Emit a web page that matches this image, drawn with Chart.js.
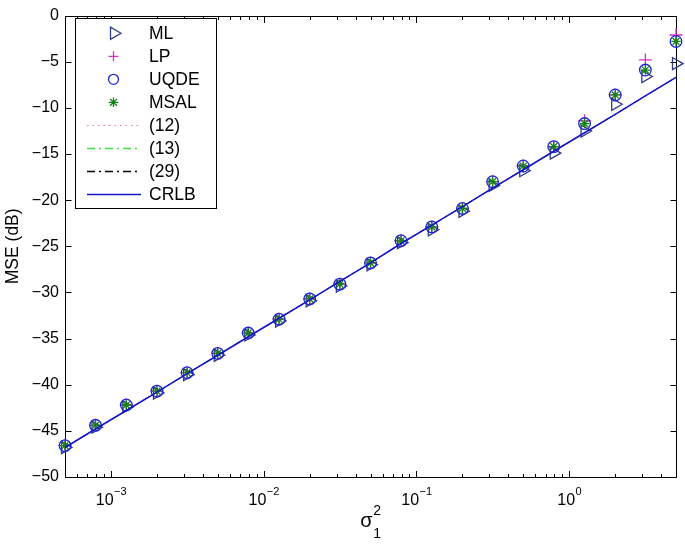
<!DOCTYPE html>
<html>
<head>
<meta charset="utf-8">
<script src="https://cdn.jsdelivr.net/npm/chart.js@4.4.1/dist/chart.umd.min.js"></script>
<style>
  html, body { margin: 0; padding: 0; background: #fff; }
  canvas { display: block; }
</style>
</head>
<body>
<canvas id="c" width="685" height="548"></canvas>
<script>
// ---- data ----
const sigma2 = [5e-4, 7.92e-4, 1.26e-3, 2e-3, 3.15e-3, 5e-3, 7.92e-3, 1.26e-2, 2e-2, 3.15e-2, 5e-2, 7.92e-2, 0.126, 0.2, 0.315, 0.5, 0.792, 1.26, 2, 3.15, 5];
const mseML   = [-46.8, -44.6, -42.4, -40.9, -38.9, -36.8, -34.6, -33.1, -30.9, -29.3, -27.0, -24.6, -23.2, -21.2, -18.4, -16.8, -14.9, -12.5, -9.6, -6.6, -5.2];
const mseLP   = [-46.6, -44.4, -42.2, -40.7, -38.7, -36.6, -34.4, -32.9, -30.7, -29.1, -26.8, -24.4, -22.9, -20.9, -18.0, -16.3, -14.2, -11.4, -8.6, -4.8, -2.1];
const mseUQDE = [-46.6, -44.4, -42.2, -40.7, -38.7, -36.6, -34.4, -32.9, -30.7, -29.1, -26.8, -24.4, -22.9, -20.9, -18.0, -16.3, -14.2, -11.7, -8.6, -5.9, -2.8];
const mseMSAL = [-46.6, -44.4, -42.2, -40.7, -38.7, -36.6, -34.4, -32.9, -30.7, -29.1, -26.8, -24.4, -22.9, -20.9, -18.0, -16.3, -14.2, -11.7, -8.6, -5.9, -2.8];
const mseEq12 = [-46.8, -44.8, -42.8, -40.8, -38.8, -36.8, -34.8, -32.8, -30.8, -28.8, -26.8, -24.7, -22.7, -20.7, -18.7, -16.7, -14.7, -12.7, -10.7, -8.7, -6.7];
const mseEq13 = [-46.8, -44.8, -42.8, -40.8, -38.8, -36.8, -34.8, -32.8, -30.8, -28.8, -26.8, -24.7, -22.7, -20.7, -18.7, -16.7, -14.7, -12.7, -10.7, -8.7, -6.7];
const mseEq29 = [-46.8, -44.8, -42.8, -40.8, -38.8, -36.8, -34.8, -32.8, -30.8, -28.8, -26.8, -24.7, -22.7, -20.7, -18.7, -16.7, -14.7, -12.7, -10.7, -8.7, -6.7];
const crlb    = [-46.8, -44.8, -42.8, -40.8, -38.8, -36.8, -34.8, -32.8, -30.8, -28.8, -26.8, -24.7, -22.7, -20.7, -18.7, -16.7, -14.7, -12.7, -10.7, -8.7, -6.7];

const xTickValues = [1e-3, 1e-2, 1e-1, 1];
const xTickExps = ['\u22123', '\u22122', '\u22121', '0'];
const yTickValues = [-50, -45, -40, -35, -30, -25, -20, -15, -10, -5, 0];
const legendLabels = ['ML', 'LP', 'UQDE', 'MSAL', '(12)', '(13)', '(29)', 'CRLB'];

// ---- styles ----
const FONT = '"Liberation Sans", Arial, Helvetica, sans-serif';
const C_ML = '#2e3c86', C_LP = '#d631c4', C_UQDE = '#1f26d4', C_MSAL = '#138213';
const C_12 = '#f07a88', C_13 = '#3ee03e', C_29 = '#000000', C_CRLB = '#1616c8';

const pts = arr => arr.map((v, i) => ({ x: sigma2[i], y: v }));

function markerDS(label, data, style, color, radius, rotation) {
  return {
    label, data: pts(data), showLine: false, pointStyle: style,
    pointRadius: radius, pointHoverRadius: radius, pointRotation: rotation || 0,
    borderColor: color, pointBorderColor: color, backgroundColor: 'transparent',
    pointBackgroundColor: 'transparent', pointBorderWidth: 1.3, clip: false
  };
}
function lineDS(label, data, color, dash, width) {
  return {
    label, data: pts(data), showLine: true, pointRadius: 0, borderColor: color,
    borderWidth: width, borderDash: dash, fill: false, tension: 0, clip: false
  };
}

// dataset 0 is drawn on top
const datasets = [
  lineDS('CRLB', crlb, C_CRLB, [], 1.6),
  lineDS('(29)', mseEq29, C_29, [8, 4, 2, 4], 1),
  lineDS('(13)', mseEq13, C_13, [8, 4, 2, 4], 1),
  lineDS('(12)', mseEq12, C_12, [1.5, 4], 1),
  markerDS('MSAL', mseMSAL, 'star', C_MSAL, 4.8),
  markerDS('UQDE', mseUQDE, 'circle', C_UQDE, 5.8),
  markerDS('LP', mseLP, 'cross', C_LP, 6.5),
  markerDS('ML', mseML, 'triangle', C_ML, 7, 90)
];

// ---- drawing helpers ----
function drawMarker(ctx, style, cx, cy, r, color) {
  ctx.save();
  ctx.strokeStyle = color; ctx.lineWidth = 1.3;
  ctx.beginPath();
  if (style === 'triangle') {
    ctx.moveTo(cx + r, cy);
    ctx.lineTo(cx - r / 2, cy - r * 0.866);
    ctx.lineTo(cx - r / 2, cy + r * 0.866);
    ctx.closePath();
  } else if (style === 'cross') {
    ctx.moveTo(cx - r, cy); ctx.lineTo(cx + r, cy);
    ctx.moveTo(cx, cy - r); ctx.lineTo(cx, cy + r);
  } else if (style === 'circle') {
    ctx.arc(cx, cy, r, 0, Math.PI * 2);
  } else if (style === 'star') {
    for (let k = 0; k < 4; k++) {
      const a = k * Math.PI / 4;
      ctx.moveTo(cx - r * Math.cos(a), cy - r * Math.sin(a));
      ctx.lineTo(cx + r * Math.cos(a), cy + r * Math.sin(a));
    }
  }
  ctx.stroke();
  ctx.restore();
}

const framePlugin = {
  id: 'frame',
  beforeDatasetsDraw(chart) {
    const { ctx, chartArea: a, scales: { x, y } } = chart;
    const L = Math.round(a.left) + 0.5, R = Math.round(a.right) + 0.5;
    const T = Math.round(a.top) + 0.5, B = Math.round(a.bottom) + 0.5;
    ctx.save();
    ctx.strokeStyle = '#000'; ctx.lineWidth = 1;
    ctx.beginPath();
    ctx.rect(L, T, R - L, B - T);
    yTickValues.forEach(v => {
      const py = Math.round(y.getPixelForValue(v)) + 0.5;
      ctx.moveTo(L, py); ctx.lineTo(L + 6, py);
      ctx.moveTo(R, py); ctx.lineTo(R - 6, py);
    });
    const xmin = x.min, xmax = x.max;
    for (let e = -4; e <= 1; e++) {
      for (let m = 1; m <= 9; m++) {
        const v = m * Math.pow(10, e);
        if (v <= xmin * 1.0001 || v >= xmax * 0.9999) continue;
        const px = Math.round(x.getPixelForValue(v)) + 0.5;
        const len = m === 1 ? 6.5 : 3.5;
        ctx.moveTo(px, B); ctx.lineTo(px, B - len);
        ctx.moveTo(px, T); ctx.lineTo(px, T + len);
      }
    }
    ctx.stroke();
    ctx.restore();
  },
  afterDraw(chart) {
    const { ctx, chartArea: a, scales: { x } } = chart;
    ctx.save();
    ctx.fillStyle = '#000';
    ctx.textBaseline = 'alphabetic';
    ctx.textAlign = 'left';
    // x tick labels: 10^e
    xTickValues.forEach((v, i) => {
      const px = x.getPixelForValue(v);
      ctx.font = '16px ' + FONT;
      const w1 = ctx.measureText('10').width;
      ctx.font = '11px ' + FONT;
      const w2 = ctx.measureText(xTickExps[i]).width;
      const start = px - (w1 + w2) / 2;
      ctx.font = '16px ' + FONT;
      ctx.fillText('10', start, 505);
      ctx.font = '11px ' + FONT;
      ctx.fillText(xTickExps[i], start + w1 + 0.5, 495);
    });
    // x title: sigma_1^2
    const cx = (a.left + a.right) / 2;
    ctx.font = '20px ' + FONT;
    const ws = ctx.measureText('\u03c3').width;
    const sx = cx - (ws + 8) / 2;
    ctx.fillText('\u03c3', sx, 527);
    ctx.font = '14px ' + FONT;
    ctx.fillText('2', sx + ws + 0.5, 515);
    ctx.fillText('1', sx + ws + 0.5, 538);

    // legend
    const bx = 75.5, by = 18.5, bw = 141, bh = 190;
    ctx.fillStyle = '#fff';
    ctx.fillRect(bx, by, bw, bh);
    ctx.strokeStyle = '#000'; ctx.lineWidth = 1;
    ctx.strokeRect(bx, by, bw, bh);
    const entries = [
      { t: 'marker', s: 'triangle', c: C_ML, r: 7 },
      { t: 'marker', s: 'cross', c: C_LP, r: 5 },
      { t: 'marker', s: 'circle', c: C_UQDE, r: 5 },
      { t: 'marker', s: 'star', c: C_MSAL, r: 4.8 },
      { t: 'line', c: C_12, d: [1.5, 4], w: 1 },
      { t: 'line', c: C_13, d: [8, 4, 2, 4], w: 1.4 },
      { t: 'line', c: C_29, d: [8, 4, 2, 4], w: 1.3 },
      { t: 'line', c: C_CRLB, d: [], w: 1.6 }
    ];
    entries.forEach((en, i) => {
      const ey = 33.3 + i * 23.0;
      if (en.t === 'marker') {
        drawMarker(ctx, en.s, en.s === 'triangle' ? 114 : 113.5, ey, en.r, en.c);
      } else {
        ctx.save();
        ctx.strokeStyle = en.c; ctx.lineWidth = en.w; ctx.setLineDash(en.d);
        ctx.beginPath(); ctx.moveTo(87, Math.round(ey) + 0.5); ctx.lineTo(141, Math.round(ey) + 0.5); ctx.stroke();
        ctx.restore();
      }
      ctx.fillStyle = '#000';
      ctx.font = '17.5px ' + FONT;
      ctx.textAlign = 'left';
      ctx.textBaseline = 'middle';
      ctx.fillText(legendLabels[i], 149, ey + 1);
    });
    ctx.restore();
  }
};

new Chart(document.getElementById('c'), {
  type: 'line',
  data: { datasets },
  plugins: [framePlugin],
  options: {
    responsive: false,
    devicePixelRatio: 1,
    animation: false,
    events: [],
    layout: { padding: { top: 10, right: 9, left: 0, bottom: 0 } },
    plugins: { legend: { display: false }, tooltip: { enabled: false } },
    scales: {
      x: {
        type: 'logarithmic', min: 5e-4, max: 5,
        grid: { display: false }, border: { display: false },
        ticks: { display: false },
        afterBuildTicks: s => { s.ticks = xTickValues.map(v => ({ value: v })); },
        afterFit: s => { s.height = 71; }
      },
      y: {
        type: 'linear', min: -50, max: 0,
        grid: { display: false, drawTicks: false }, border: { display: false },
        afterBuildTicks: s => { s.ticks = yTickValues.map(v => ({ value: v })); },
        ticks: {
          color: '#000', padding: 6, font: { size: 16, family: FONT },
          callback: v => (v < 0 ? '\u2212' + Math.abs(v) : String(v))
        },
        title: { display: true, text: 'MSE (dB)', color: '#000', font: { size: 17.5, family: FONT }, padding: { top: 3, bottom: 0 } },
        afterFit: s => { s.width = 65; }
      }
    }
  }
});
</script>
</body>
</html>
